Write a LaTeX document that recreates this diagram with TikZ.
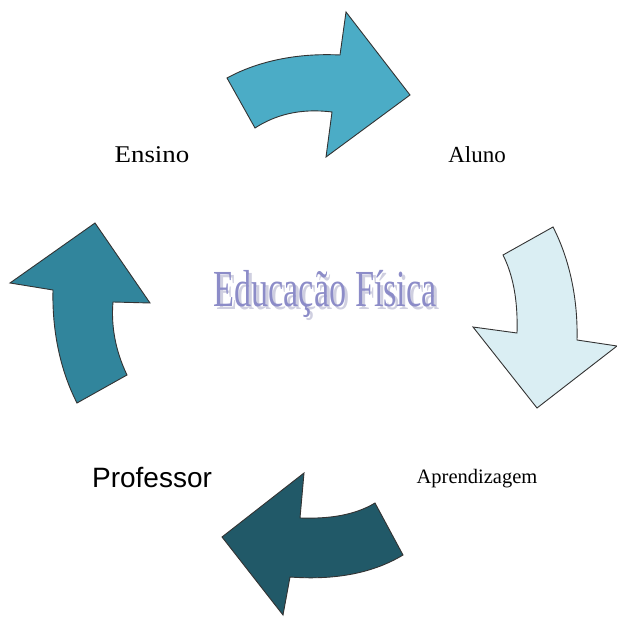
\documentclass[tikz,border=0pt]{standalone}
\usepackage{fontspec}
\setmainfont{Liberation Serif}
\newfontfamily\arialfont{Liberation Sans}
\definecolor{arrowA}{HTML}{4BACC6}
\definecolor{arrowB}{HTML}{DAEEF3}
\definecolor{arrowC}{HTML}{215968}
\definecolor{arrowD}{HTML}{31859C}
\definecolor{wordart}{HTML}{8C8CC8}
\definecolor{wordshadow}{HTML}{CFCFE0}

\begin{document}
\begin{tikzpicture}[x=1pt,y=-1pt,
  bigarrow/.style={draw=black!80,line width=0.9pt,line join=miter},
  label/.style={anchor=base,inner sep=0pt}]
\useasboundingbox (0,0) rectangle (617,617);
% top arrow
\draw[bigarrow,fill=arrowA] (227,78) .. controls (260,60) and (300,53) .. (340,55)
  -- (346,12) -- (410,95) -- (326,157) -- (332,112)
  .. controls (300,108) and (275,115) .. (255,128) -- cycle;
% right arrow
\draw[bigarrow,fill=arrowB] (503,255) -- (553,227)
  .. controls (570,260) and (578,300) .. (577,340)
  -- (617,346) -- (537,408) -- (473,327) -- (517,333)
  .. controls (518,300) and (513,275) .. (503,255) -- cycle;
% bottom arrow
\draw[bigarrow,fill=arrowC] (375,503) -- (403,555)
  .. controls (370,575) and (330,580) .. (290,577)
  -- (283,615) -- (222,537) -- (304,473) -- (300,518)
  .. controls (330,519) and (355,515) .. (375,503) -- cycle;
% left arrow
\draw[bigarrow,fill=arrowD] (77,403) -- (127,375)
  .. controls (115,350) and (111,325) .. (113,302)
  -- (150,303) -- (95,223) -- (10,283) -- (53,290)
  .. controls (52,330) and (60,370) .. (77,403) -- cycle;
% labels
\node[label,xscale=1.12,font=\fontsize{24}{24}\selectfont] (ensino) at (152,163) {Ensino};
\node[label,font=\fontsize{23}{23}\selectfont] (aluno) at (477,163) {Aluno};
\node[label,font=\fontsize{20.5}{20.5}\selectfont] (aprend) at (477,483) {Aprendizagem};
\node[label,font=\arialfont\fontsize{28}{28}\selectfont] (professor) at (152,487) {Professor};
% title
\node[label,xscale=0.66,text=wordshadow,font=\fontsize{52}{52}\selectfont] (titleshadow) at (328,309) {Educação Física};
\node[label,xscale=0.66,text=wordart,font=\fontsize{52}{52}\selectfont] (title) at (325,306) {Educação Física};
\end{tikzpicture}
\end{document}
